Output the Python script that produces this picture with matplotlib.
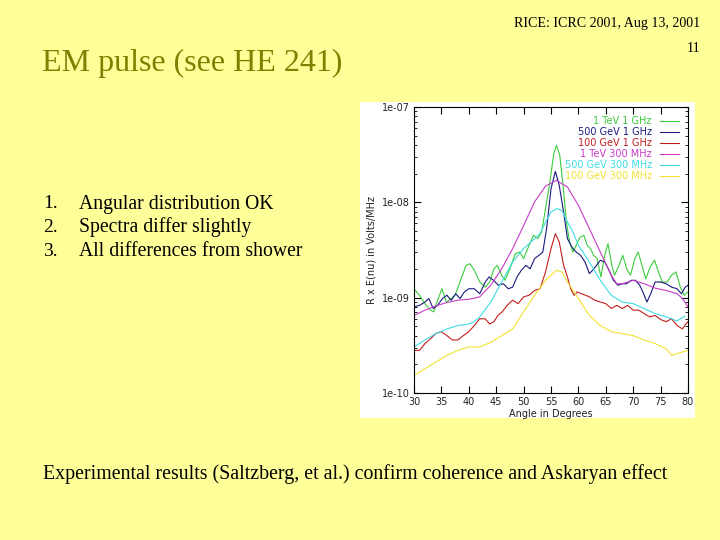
import numpy as np
import matplotlib
matplotlib.use("Agg")
import matplotlib.pyplot as plt
from matplotlib.patches import Rectangle

# angle (deg) and R x E(nu) (V/MHz)
ang_g = [30, 31, 32, 33, 33.6, 34.3, 35.1, 35.9, 36.8, 37.5, 38.5, 39.5, 40.2, 41, 42, 43, 43.8, 44.6,
         45.2, 46, 46.6, 47.5, 48.5, 49.3, 50, 51, 51.8, 52.6, 53.3, 54, 54.8, 55.5, 56, 56.6, 57.2,
         57.8, 58.4, 59, 59.6, 60.3, 61, 61.6, 62.2, 62.8, 63.4, 64.1, 64.8, 65.4, 66.1, 66.6, 67.4,
         68.1, 68.8, 69.5, 70.3, 70.9, 71.6, 72.3, 73.1, 73.9, 74.6, 75.3, 76.2, 77, 77.8, 78.6, 79.3, 80]
tev1_1ghz = [1.24e-9, 1.06e-9, 8.65e-10, 7.4e-10, 7.1e-10, 9.4e-10, 1.24e-9, 9.0e-10, 9.8e-10, 1.06e-9,
             1.52e-9, 2.18e-9, 2.27e-9, 1.94e-9, 1.46e-9, 1.29e-9, 1.46e-9, 2.01e-9, 2.18e-9, 1.72e-9,
             1.52e-9, 2.01e-9, 2.9e-9, 3.01e-9, 2.57e-9, 3.54e-9, 4.5e-9, 4.16e-9, 4.9e-9, 8.6e-9,
             1.63e-8, 3.24e-8, 3.96e-8, 3.1e-8, 1.51e-8, 6.2e-9, 3.84e-9, 3.01e-9, 3.54e-9, 4.3e-9,
             4.5e-9, 3.54e-9, 3.27e-9, 2.78e-9, 2.57e-9, 1.65e-9, 2.78e-9, 3.68e-9, 2.18e-9, 1.72e-9,
             2.18e-9, 2.78e-9, 2.01e-9, 1.72e-9, 2.57e-9, 3.01e-9, 2.18e-9, 1.58e-9, 2.1e-9, 2.47e-9,
             1.86e-9, 1.46e-9, 1.46e-9, 1.72e-9, 1.86e-9, 1.29e-9, 1.06e-9, 1.15e-9]

ang_b = [30, 31, 32, 32.7, 33.5, 34.3, 35.2, 36, 36.8, 37.6, 38.4, 39.2, 40, 41, 42, 43, 43.7, 44.5,
         45.4, 46.3, 47.2, 48, 48.8, 49.6, 50.4, 51.2, 52, 52.8, 53.5, 54.2, 55, 55.8, 56.5, 57.3, 58,
         58.8, 59.6, 60.4, 61.2, 62, 62.6, 63.3, 64, 64.8, 65.6, 66.4, 67.2, 68, 68.8, 69.6, 70.4,
         71.2, 71.9, 72.5, 73.2, 74, 75, 76, 77, 78, 78.8, 79.5, 80]
gev500_1ghz = [8.0e-10, 8.3e-10, 9.0e-10, 9.8e-10, 7.7e-10, 8.3e-10, 9.8e-10, 1.06e-9, 9.4e-10, 1.10e-9,
               9.8e-10, 1.15e-9, 1.24e-9, 1.24e-9, 1.10e-9, 1.46e-9, 1.65e-9, 1.52e-9, 1.35e-9, 1.40e-9,
               1.24e-9, 1.29e-9, 1.65e-9, 1.94e-9, 2.18e-9, 2.01e-9, 2.57e-9, 2.78e-9, 3.01e-9, 5.3e-9,
               1.39e-8, 2.11e-8, 1.51e-8, 7.9e-9, 4.16e-9, 3.4e-9, 3.01e-9, 2.78e-9, 2.37e-9, 1.79e-9,
               1.94e-9, 2.18e-9, 2.47e-9, 2.37e-9, 1.94e-9, 1.52e-9, 1.35e-9, 1.40e-9, 1.40e-9, 1.52e-9,
               1.52e-9, 1.35e-9, 1.10e-9, 9.0e-10, 1.10e-9, 1.46e-9, 1.46e-9, 1.40e-9, 1.29e-9, 1.24e-9,
               1.10e-9, 1.29e-9, 1.35e-9]

ang_r = [30, 31, 32, 33, 34, 35, 36, 37, 38, 39, 40, 41, 42, 43, 43.8, 44.6, 45.3, 46.1, 47, 48, 49,
         50, 51, 52, 53, 54, 55, 55.8, 56.5, 57.3, 58, 58.6, 59.2, 59.8, 60.5, 61.3, 62, 63, 64, 65,
         66, 67, 68, 69, 70, 71, 72, 73, 74, 75, 76, 77, 78, 79, 79.5, 80]
gev100_1ghz = [2.8e-10, 2.8e-10, 3.3e-10, 3.7e-10, 4.2e-10, 4.4e-10, 4.0e-10, 3.6e-10, 3.6e-10, 4.0e-10,
               4.4e-10, 5.1e-10, 6.0e-10, 6.0e-10, 5.3e-10, 5.6e-10, 6.5e-10, 7.1e-10, 8.3e-10, 9.4e-10,
               8.65e-10, 1.02e-9, 1.06e-9, 1.19e-9, 1.24e-9, 1.86e-9, 3.27e-9, 4.7e-9, 3.84e-9, 2.18e-9,
               1.65e-9, 1.24e-9, 1.06e-9, 1.15e-9, 1.10e-9, 1.06e-9, 1.02e-9, 9.4e-10, 9.0e-10, 8.65e-10,
               7.7e-10, 8.3e-10, 7.7e-10, 8.3e-10, 7.4e-10, 7.4e-10, 6.8e-10, 6.3e-10, 6.5e-10, 5.9e-10,
               5.6e-10, 6.0e-10, 5.1e-10, 4.7e-10, 5.2e-10, 5.6e-10]

ang_m = [30, 32, 34, 36, 38, 40, 42, 44, 46, 48, 50, 52, 54, 56, 58, 60, 62, 64, 66, 67, 68, 70, 72,
         74, 76, 78, 79, 80]
tev1_300mhz = [6.5e-10, 7.4e-10, 8.2e-10, 8.9e-10, 9.4e-10, 9.6e-10, 1.02e-9, 1.35e-9, 2.01e-9, 3.27e-9,
               5.7e-9, 1.01e-8, 1.48e-8, 1.70e-8, 1.45e-8, 9.3e-9, 5.3e-9, 3.01e-9, 1.72e-9, 1.40e-9,
               1.40e-9, 1.52e-9, 1.40e-9, 1.26e-9, 1.19e-9, 1.10e-9, 9.8e-10, 8.0e-10]

ang_c = [30, 32, 34, 36, 38, 40, 41, 42, 44, 46, 48, 50, 52, 53, 54, 55, 56, 57, 58, 59, 60, 62, 64,
         66, 68, 70, 72, 74, 76, 78, 79.4]
gev500_300mhz = [3.04e-10, 3.6e-10, 4.2e-10, 4.7e-10, 5.1e-10, 5.3e-10, 5.6e-10, 6.3e-10, 9.0e-10,
                 1.46e-9, 2.37e-9, 3.27e-9, 4.16e-9, 4.7e-9, 6.2e-9, 7.9e-9, 8.6e-9, 8.2e-9, 6.2e-9,
                 4.9e-9, 3.54e-9, 2.37e-9, 1.52e-9, 1.06e-9, 9.0e-10, 8.65e-10, 7.7e-10, 6.8e-10,
                 6.3e-10, 5.7e-10, 6.4e-10]

ang_y = [30, 32, 34, 36, 38, 40, 42, 44, 46, 48, 50, 52, 54, 55, 56, 57, 58, 60, 62, 64, 66, 68, 70,
         72, 74, 76, 77, 78, 80]
gev100_300mhz = [1.53e-10, 1.80e-10, 2.11e-10, 2.48e-10, 2.8e-10, 3.04e-10, 3.04e-10, 3.4e-10, 4.0e-10,
                 4.7e-10, 7.1e-10, 1.06e-9, 1.52e-9, 1.72e-9, 1.94e-9, 1.86e-9, 1.46e-9, 9.8e-10,
                 6.5e-10, 5.1e-10, 4.4e-10, 4.2e-10, 4.0e-10, 3.6e-10, 3.3e-10, 2.92e-10, 2.48e-10,
                 2.59e-10, 2.8e-10]

labels = ["1 TeV 1 GHz", "500 GeV 1 GHz", "100 GeV 1 GHz",
          "1 TeV 300 MHz", "500 GeV 300 MHz", "100 GeV 300 MHz"]
colors = ["#3ccc3c", "#1a1a80", "#c41e1e", "#c83cc8", "#3cdce6", "#f2e230"]

W, H = 720, 540
fig = plt.figure(figsize=(7.2, 5.4), dpi=100)
fig.patch.set_facecolor("#ffff99")

# white panel behind the plot
fig.patches.append(Rectangle((360 / W, 1 - 418 / H), 335 / W, 316 / H,
                             transform=fig.transFigure, fc="white", ec="none", zorder=-5))

ax = fig.add_axes([414 / W, 1 - 393 / H, 274 / W, 286 / H])
ax.set_zorder(2)
ax.set_facecolor("white")

series = [(ang_g, tev1_1ghz), (ang_b, gev500_1ghz), (ang_r, gev100_1ghz),
          (ang_m, tev1_300mhz), (ang_c, gev500_300mhz), (ang_y, gev100_300mhz)]
for (x, y), lab, c in zip(series, labels, colors):
    ax.plot(x, y, color=c, lw=0.8, label=lab)

ax.set_yscale("log")
ax.set_xlim(30, 80)
ax.set_ylim(1e-10, 1e-7)
ax.set_xticks(np.arange(30, 81, 5))
ax.set_yticks([1e-10, 1e-9, 1e-8, 1e-7])
ax.set_yticklabels(["1e-10", "1e-09", "1e-08", "1e-07"])
ax.yaxis.set_minor_locator(matplotlib.ticker.LogLocator(base=10, subs=np.arange(2, 10)))
ax.yaxis.set_minor_formatter(matplotlib.ticker.NullFormatter())
ax.tick_params(which="both", direction="in", top=True, right=True, labelsize=7, pad=3,
               labelcolor="#222222")
ax.tick_params(which="major", length=5, width=0.8)
ax.tick_params(which="minor", length=2.5, width=0.6)
for s in ax.spines.values():
    s.set_linewidth(0.8)

ax.set_xlabel("Angle in Degrees", fontsize=7, labelpad=1, color="#222222")
ax.set_ylabel("R x E(nu) in Volts/MHz", fontsize=7, labelpad=4, color="#222222")

leg = ax.legend(loc="upper right", bbox_to_anchor=(0.985, 0.985), frameon=False, fontsize=7,
                markerfirst=False, handlelength=2.0, handletextpad=0.8, labelspacing=0.1,
                borderpad=0, labelcolor="linecolor")

serif = ["Liberation Serif", "DejaVu Serif"]
fig.text(700 / W, 1 - 23 / H, "RICE: ICRC 2001, Aug 13, 2001", ha="right", va="center",
         family=serif, fontsize=10.1)
fig.text(700 / W, 1 - 48 / H, "11", ha="right", va="center", family=serif, fontsize=10.1)
fig.text(42 / W, 1 - 63 / H, "EM pulse (see HE 241)", ha="left", va="center",
         family=serif, fontsize=23, color="#7f7f00")

items = ["Angular distribution OK", "Spectra differ slightly", "All differences from shower"]
for i, t in enumerate(items):
    yy = 1 - (204 + 23.5 * i) / H
    fig.text(43 / W, yy, "%d." % (i + 1), ha="left", va="center", family=serif, fontsize=14)
    fig.text(79 / W, yy, t, ha="left", va="center", family=serif, fontsize=14.2)

fig.text(43 / W, 1 - 474 / H,
         "Experimental results (Saltzberg, et al.) confirm coherence and Askaryan effect",
         ha="left", va="center", family=serif, fontsize=14.3)

fig.savefig("out.png", dpi=100, facecolor=fig.get_facecolor())
